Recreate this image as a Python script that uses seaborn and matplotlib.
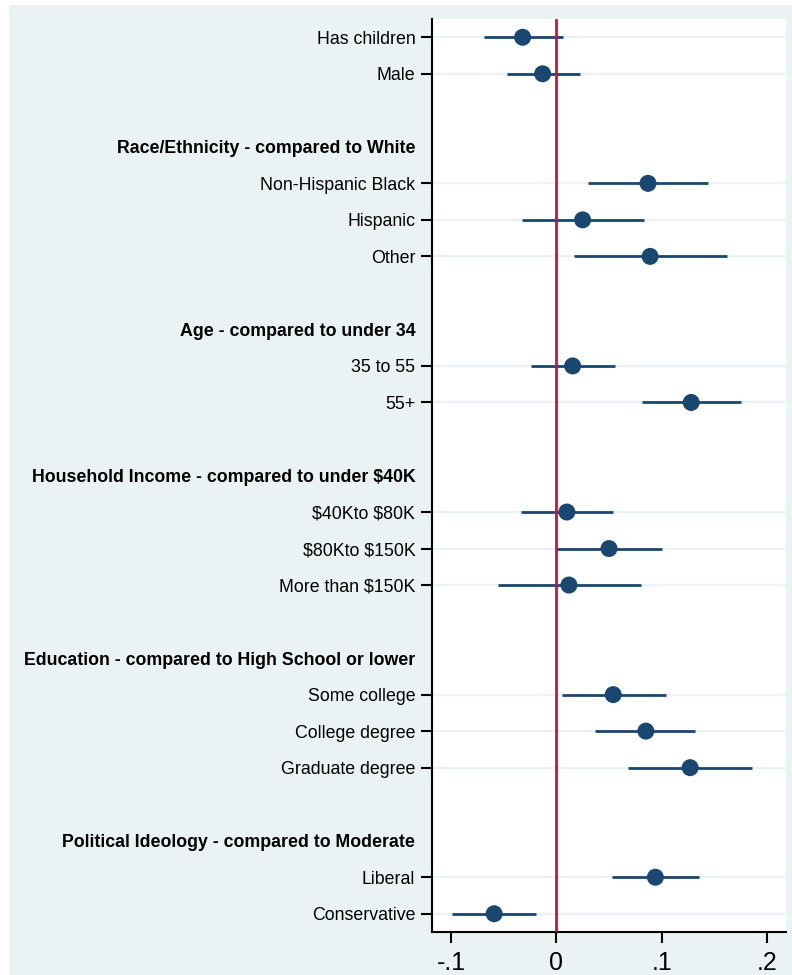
import numpy as np
import pandas as pd
import matplotlib
matplotlib.use("Agg")
import matplotlib.pyplot as plt
import seaborn as sns
from matplotlib.patches import Rectangle

# ---- data ----
rows = [
    "Has children", "Male", "",
    "Race/Ethnicity - compared to White", "Non-Hispanic Black", "Hispanic", "Other", "",
    "Age - compared to under 34", "35 to 55", "55+", "",
    "Household Income - compared to under $40K", "$40Kto $80K", "$80Kto $150K", "More than $150K", "",
    "Education - compared to High School or lower", "Some college", "College degree", "Graduate degree", "",
    "Political Ideology - compared to Moderate", "Liberal", "Conservative",
]
headers = [
    "Race/Ethnicity - compared to White",
    "Age - compared to under 34",
    "Household Income - compared to under $40K",
    "Education - compared to High School or lower",
    "Political Ideology - compared to Moderate",
]
item_labels = [
    "Has children", "Male",
    "Non-Hispanic Black", "Hispanic", "Other",
    "35 to 55", "55+",
    "$40Kto $80K", "$80Kto $150K", "More than $150K",
    "Some college", "College degree", "Graduate degree",
    "Liberal", "Conservative",
]
estimates = [-0.032, -0.013, 0.087, 0.025, 0.089, 0.0155, 0.128,
             0.010, 0.050, 0.012, 0.054, 0.085, 0.127, 0.094, -0.059]
ci_low = [-0.069, -0.047, 0.030, -0.033, 0.017, -0.024, 0.081,
          -0.034, 0.000, -0.055, 0.005, 0.037, 0.068, 0.053, -0.099]
ci_high = [0.006, 0.022, 0.144, 0.083, 0.162, 0.056, 0.175,
           0.054, 0.100, 0.080, 0.104, 0.132, 0.186, 0.135, -0.019]
x_ticks = [-0.1, 0.0, 0.1, 0.2]
x_tick_labels = ["-.1", "0", ".1", ".2"]

# ---- style ----
BG = "#EAF2F3"
NAVY = "#1A476F"
RED = "#D0103A"

sns.set_theme(style="white")
plt.rcParams['font.family'] = ['Liberation Sans', 'DejaVu Sans']


def esc(s):
    return s.replace("$", r"\$")


df = pd.DataFrame({"label": item_labels, "est": estimates, "lo": ci_low, "hi": ci_high})
df["pos"] = [rows.index(l) for l in item_labels]
header_pos = [rows.index(h) for h in headers]

fig = plt.figure(figsize=(7.92, 9.75), dpi=100)
fig.patch.set_facecolor("white")
fig.patches.append(Rectangle((9 / 792, 0), 1, 970 / 975, transform=fig.transFigure,
                             facecolor=BG, edgecolor="none", zorder=-10))
ax = fig.add_axes([432 / 792, 43 / 975, 354 / 792, 913 / 975])
ax.set_zorder(1)
ax.set_facecolor("white")

ax.set_xlim(-0.118, 0.218)
ax.set_ylim(len(rows) - 0.5, -0.5)

# grid lines at item rows only
for p in df["pos"]:
    ax.axhline(p, color=BG, lw=1.6, zorder=1)

ax.hlines(df["pos"], df["lo"], df["hi"], color=NAVY, lw=2.0, zorder=3)
ax.axvline(0, color=RED, lw=2.0, zorder=4)
sns.scatterplot(data=df, x="est", y="pos", s=150, color=NAVY, edgecolor="none",
                zorder=5, ax=ax, legend=False)

ax.set_xticks(x_ticks)
ax.set_xticklabels(x_tick_labels, fontsize=18, color="black")
ax.set_yticks(df["pos"])
ax.set_yticklabels([esc(l) for l in df["label"]], fontsize=12.8, color="black")
ax.set_yticks(header_pos, minor=True)
ax.set_yticklabels([esc(h) for h in headers], minor=True, fontsize=12.8,
                   fontweight="bold", color="black")

ax.tick_params(axis="y", which="major", left=True, length=8, width=1.5, color="black", pad=4)
ax.tick_params(axis="y", which="minor", left=True, length=0, pad=12)
ax.tick_params(axis="x", which="major", bottom=True, length=8, width=1.5, color="black", pad=6)

ax.set_xlabel("")
ax.set_ylabel("")
for s in ["top", "right"]:
    ax.spines[s].set_visible(False)
for s in ["left", "bottom"]:
    ax.spines[s].set_color("black")
    ax.spines[s].set_linewidth(1.5)
ax.grid(False)

fig.savefig("out.png", dpi=100, facecolor=fig.get_facecolor())
